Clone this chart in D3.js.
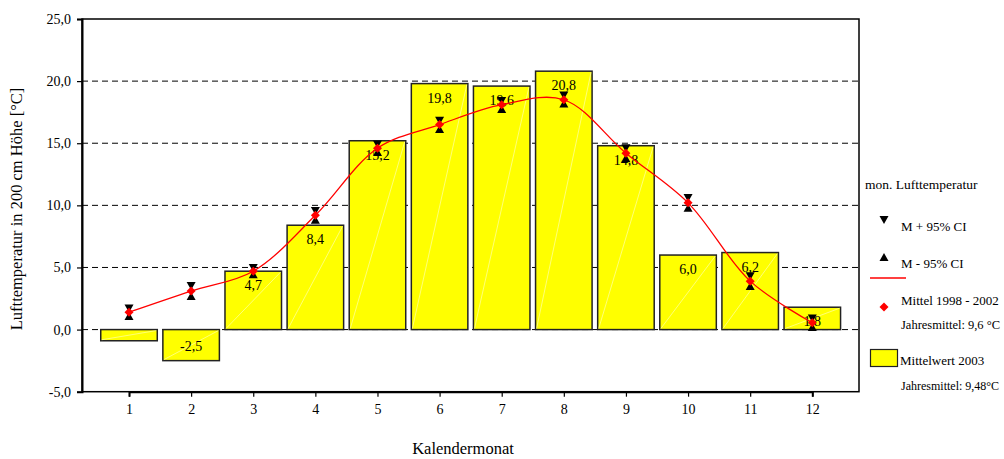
<!DOCTYPE html>
<html><head><meta charset="utf-8">
<script src="https://cdn.jsdelivr.net/npm/d3@7"></script>
<style>
html,body{margin:0;padding:0;background:#fff;}
</style></head>
<body><svg id="chart" width="1004" height="459"></svg>
<script>
const months = [1,2,3,4,5,6,7,8,9,10,11,12];
const mean2003 = [-0.9,-2.5,4.7,8.4,15.2,19.8,19.6,20.8,14.8,6.0,6.2,1.8];
const mean9802 = [1.4,3.1,4.7,9.2,14.6,16.5,18.1,18.5,14.2,10.2,3.9,0.55];
const ciUpper = [1.7,3.5,4.95,9.55,14.9,16.8,18.4,18.85,14.6,10.6,4.3,0.9];
const ciLower = [1.1,2.7,4.45,8.85,14.3,16.15,17.75,18.2,13.8,9.8,3.5,0.2];
const yTicks = [-5,0,5,10,15,20,25];
const legendLabels = ["mon. Lufttemperatur","M + 95% CI","M - 95% CI","Mittel 1998 - 2002","Jahresmittel: 9,6 °C","Mittelwert 2003","Jahresmittel: 9,48°C"];
const yTitle = "Lufttemperatur in 200 cm Höhe [°C]";
const xTitle = "Kalendermonat";

const svg = d3.select("#chart");

// pick an installed serif font, otherwise a narrow sans
function hasFont(name) {
  const t1 = svg.append("text").attr("font-family", "monospace").attr("font-size", 40).text("mmmwwwiiilllKalender");
  const t2 = svg.append("text").attr("font-family", `'${name}', monospace`).attr("font-size", 40).text("mmmwwwiiilllKalender");
  const w1 = t1.node().getComputedTextLength(), w2 = t2.node().getComputedTextLength();
  t1.remove(); t2.remove();
  return Math.abs(w1 - w2) > 0.5;
}
let FONT = null, K = 1;
for (const f of ["Liberation Serif", "Times New Roman", "Tinos", "Noto Serif", "DejaVu Serif", "FreeSerif"]) {
  if (hasFont(f)) { FONT = `'${f}', serif`; if (f === "Noto Serif" || f === "DejaVu Serif") K = 0.88; break; }
}
if (!FONT) { FONT = "'Liberation Sans', Arial, sans-serif"; K = 0.92; }
svg.attr("font-family", FONT);

const L = 82, R = 859, T = 19, B = 391.7;
const xb = d3.scaleBand().domain(months).range([97.95, 843.35]);
const x = d3.scaleBand().domain(months).range([97.95, 843.35]).paddingInner(0.09).paddingOuter(0.045);
const xc = m => xb(m) + xb.bandwidth()/2;
const y = d3.scaleLinear().domain([-5,25]).range([B, T]);
const fmt = v => d3.format(".1f")(v).replace(".", ",").replace("\u2212", "-");

// gridlines
svg.append("g").selectAll("line").data(yTicks.filter(t => t > -5 && t < 25)).join("line")
  .attr("x1", L).attr("x2", R).attr("y1", d => y(d)).attr("y2", d => y(d))
  .attr("stroke", "#000").attr("stroke-width", 1).attr("stroke-dasharray", "6,4");

// bars
const bars = months.map((m,i) => ({m, v: mean2003[i]}));
const bw = x.bandwidth();
svg.append("g").selectAll("rect").data(bars).join("rect")
  .attr("x", d => xc(d.m) - bw/2).attr("width", bw)
  .attr("y", d => y(Math.max(0, d.v))).attr("height", d => Math.abs(y(d.v) - y(0)))
  .attr("fill", "#ffff00").attr("stroke", "#222").attr("stroke-width", 1.5);
svg.append("g").selectAll("line").data(bars).join("line")
  .attr("x1", d => xc(d.m) - bw/2 + 1).attr("x2", d => xc(d.m) + bw/2 - 1)
  .attr("y1", d => d.v >= 0 ? y(0) - 1 : y(d.v) - 1).attr("y2", d => d.v >= 0 ? y(d.v) + 1 : y(0) + 1)
  .attr("stroke", "#ffffc8").attr("stroke-width", 0.6);

// bar labels
svg.append("g").selectAll("text").data(bars.filter(d => Math.abs(y(d.v) - y(0)) > 15)).join("text")
  .attr("x", d => xc(d.m)).attr("y", d => d.v >= 0 ? y(d.v) + 19 : y(d.v) - 10)
  .attr("text-anchor", "middle").attr("font-size", 14 * K).text(d => fmt(d.v));

// mean line
const pts = months.map((m,i) => [xc(m), y(mean9802[i])]);
svg.append("path").attr("d", d3.line().curve(d3.curveCatmullRom.alpha(0.5))(pts))
  .attr("fill", "none").attr("stroke", "#ff0000").attr("stroke-width", 1.3);

// CI markers
const triDown = (cx, cy) => `M${cx-4.5},${cy-4}L${cx+4.5},${cy-4}L${cx},${cy+4}Z`;
const triUp = (cx, cy) => `M${cx-4.5},${cy+4}L${cx+4.5},${cy+4}L${cx},${cy-4}Z`;
const diamond = (cx, cy, r) => `M${cx},${cy-r}L${cx+r},${cy}L${cx},${cy+r}L${cx-r},${cy}Z`;
svg.append("g").selectAll("path").data(months).join("path")
  .attr("d", (m,i) => triDown(xc(m), y(ciUpper[i]))).attr("fill", "#000");
svg.append("g").selectAll("path").data(months).join("path")
  .attr("d", (m,i) => triUp(xc(m), y(ciLower[i]))).attr("fill", "#000");
svg.append("g").selectAll("path").data(months).join("path")
  .attr("d", (m,i) => diamond(xc(m), y(mean9802[i]), 4.5)).attr("fill", "#ff0000");

// frame
svg.append("rect").attr("x", L).attr("y", T).attr("width", R - L).attr("height", B - T)
  .attr("fill", "none").attr("stroke", "#000").attr("stroke-width", 1.5);

// axes
const yAxis = svg.append("g").attr("transform", `translate(${L},0)`)
  .call(d3.axisLeft(y).tickValues(yTicks).tickSize(5).tickPadding(6).tickFormat(fmt));
const xAxis = svg.append("g").attr("transform", `translate(0,${B})`)
  .call(d3.axisBottom(d3.scalePoint().domain(months).range([xc(1), xc(12)])).tickSize(5).tickPadding(7));
[yAxis, xAxis].forEach(g => {
  g.attr("font-family", FONT).attr("font-size", 14 * K);
  g.select(".domain").attr("stroke", "#000").attr("stroke-width", 2);
  g.selectAll(".tick line").attr("stroke", "#000").attr("stroke-width", 1.2);
  g.selectAll(".tick text").attr("fill", "#000");
});

// titles
svg.append("text").attr("transform", `translate(22,209) rotate(-90)`).attr("text-anchor", "middle")
  .attr("font-size", 16.5 * K).text(yTitle);
svg.append("text").attr("x", 463).attr("y", 454).attr("text-anchor", "middle")
  .attr("font-size", 16.5 * K).text(xTitle);

// legend
const lg = svg.append("g").attr("font-size", 13 * K);
const fit = (sel, maxRight) => {
  const n = sel.node(); const x0 = +sel.attr("x");
  let fs = parseFloat(sel.attr("font-size") || 13 * K);
  sel.attr("font-size", fs);
  while (x0 + n.getComputedTextLength() > maxRight && fs > 8) { fs -= 0.25; sel.attr("font-size", fs); }
  return sel;
};
fit(lg.append("text").attr("x", 865).attr("y", 189).attr("font-size", 13.5 * K).text(legendLabels[0]), 1001);
lg.append("path").attr("d", triDown(884, 220)).attr("fill", "#000");
fit(lg.append("text").attr("x", 901).attr("y", 231).text(legendLabels[1]), 1001);
lg.append("path").attr("d", triUp(884, 257)).attr("fill", "#000");
fit(lg.append("text").attr("x", 901).attr("y", 268).text(legendLabels[2]), 1001);
lg.append("line").attr("x1", 870).attr("x2", 906).attr("y1", 278).attr("y2", 278).attr("stroke", "#ff0000").attr("stroke-width", 1.3);
lg.append("path").attr("d", diamond(884, 307, 4.5)).attr("fill", "#ff0000");
fit(lg.append("text").attr("x", 901).attr("y", 305).text(legendLabels[3]), 1001);
fit(lg.append("text").attr("x", 901).attr("y", 329).text(legendLabels[4]), 1001);
lg.append("rect").attr("x", 870.5).attr("y", 349.5).attr("width", 27).attr("height", 17).attr("fill", "#ffff00").attr("stroke", "#222").attr("stroke-width", 1.2);
fit(lg.append("text").attr("x", 900).attr("y", 365).text(legendLabels[5]), 1001);
fit(lg.append("text").attr("x", 901).attr("y", 390).text(legendLabels[6]), 1001);
</script></body></html>
